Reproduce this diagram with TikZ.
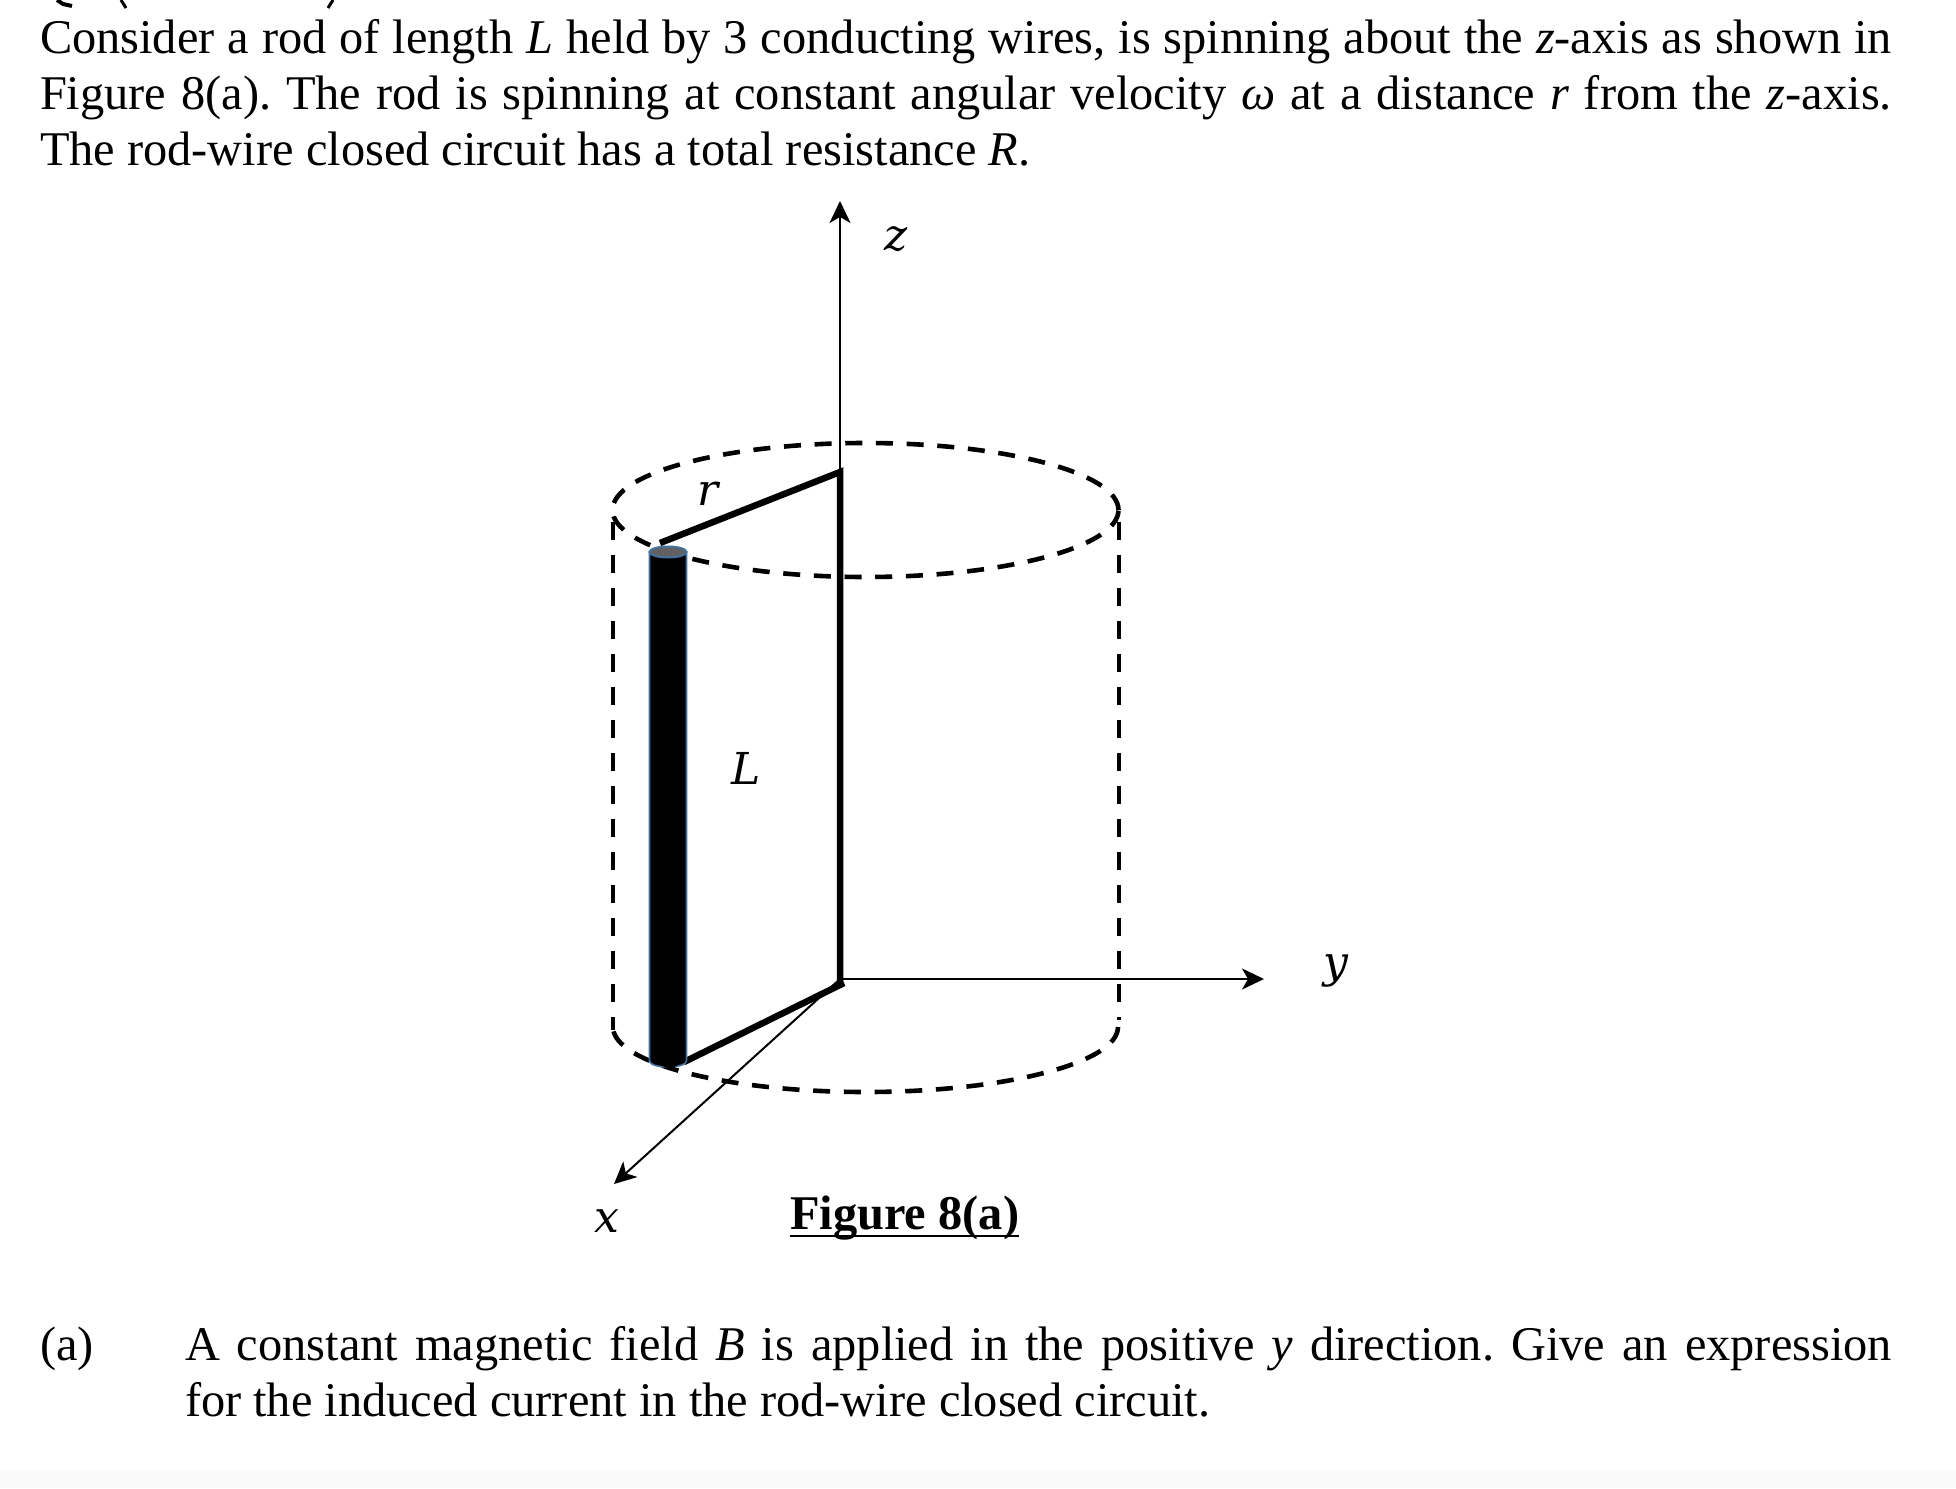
\documentclass[tikz,border=0pt]{standalone}
\usepackage{fontspec}
\setmainfont{Liberation Serif}
\newfontfamily\labfont{DejaVu Serif}
\usetikzlibrary{arrows.meta}
\definecolor{rodrim}{HTML}{41719C}
\tikzset{
 txt/.style={anchor=base west,inner sep=0pt,outer sep=0pt,font=\fontsize{48.4}{56}\selectfont\frenchspacing},
 lab/.style={anchor=base,inner sep=0pt,outer sep=0pt,font=\fontsize{44}{56}\selectfont\labfont\itshape},
 axisline/.style={line width=2pt,-{Stealth[length=22pt,width=21pt,inset=6pt]}},
 wire/.style={line width=6.5pt},
 dashline/.style={line width=4.6pt,dash pattern=on 17pt off 13.7pt},
 dashvert/.style={line width=4.6pt,dash pattern=on 18pt off 15pt},
 scrap/.style={line width=3pt},
}
\begin{document}
\begin{tikzpicture}[x=1pt,y=-1pt]
\useasboundingbox (0,0) rectangle (1956,1488);
\fill[white] (0,0) rectangle (1956,1488);
\fill[black!2] (0,1470) rectangle (1956,1488);
% clipped remains of the line above the text
\draw[scrap,line width=4pt] (57,0) -- (63,4) -- (72,6);
\draw[scrap] (121,0) -- (126,8);
\draw[scrap] (333,0) -- (328,8);
% text
\node[txt] (l1) at (40,53) {\makebox[1852pt][s]{Consider a rod of length \textit{L} held by 3 conducting wires, is spinning about the \textit{z}-axis as shown in}};
\node[txt] (l2) at (40,109) {\makebox[1852pt][s]{Figure 8(a). The rod is spinning at constant angular velocity \textit{ω} at a distance \textit{r} from the \textit{z}-axis.}};
\node[txt] (l3) at (40,165) {The rod-wire closed circuit has a total resistance \textit{R}.};
\node[txt] (a) at (40,1360) {(a)};
\node[txt] (q1) at (185,1360) {\makebox[1707pt][s]{A constant magnetic field \textit{B} is applied in the positive \textit{y} direction. Give an expression}};
\node[txt] (q2) at (185,1416) {for the induced current in the rod-wire closed circuit.};
% coordinates
\coordinate (O) at (840,979);
\coordinate (zt) at (840,201);
\coordinate (yt) at (1264,979);
\coordinate (xt) at (614,1184);
\coordinate (wt) at (840,472);
\coordinate (wb) at (844,983);
\coordinate (wl) at (660,543);
\coordinate (wr) at (684,1062);
% axes
\draw[axisline] (O) -- (zt);
\draw[axisline] (O) -- (yt);
\draw[axisline] (O) -- (xt);
% dashed cylinder
\draw[dashline] (865.5,510) ellipse [x radius=253pt,y radius=67pt];
\draw[dashvert] (613,522) -- (613,1030);
\draw[dashvert] (1119,522) -- (1119,1020);
\draw[dashline] (1118,1027) arc[start angle=0,end angle=-180,x radius=252.5pt,y radius=65pt];
% wires
\draw[wire] (wl) -- (wt) -- (840,985);
\draw[wire] (wb) -- (wr);
% rod
\draw[fill=black,draw=rodrim,line width=1.6pt] (649.5,552) -- (649.5,1061) arc[start angle=-180,end angle=0,x radius=18.5pt,y radius=6pt] -- (686.5,552) -- cycle;
\fill[black] (652,1060) -- (670,1070) -- (685,1060) -- (685,1040) -- (652,1040) -- cycle;
\draw[fill=black!62,draw=rodrim,line width=2pt] (668,552) ellipse [x radius=18.5pt,y radius=5.5pt];
% labels
\node[lab] (zl) at (896,250) {z};
\node[lab] (rl) at (708,505) {r};
\node[lab] (Ll) at (746,784) {L};
\node[lab] (yl) at (1336,977) {y};
\node[lab] (xl) at (607,1232) {x};
\node[anchor=base west,inner sep=0pt,font=\fontsize{48.4}{56}\selectfont\bfseries] (fig) at (790,1229) {Figure 8(a)};
\draw[line width=2pt] (790,1236) -- (1019,1236);
\end{tikzpicture}
\end{document}
